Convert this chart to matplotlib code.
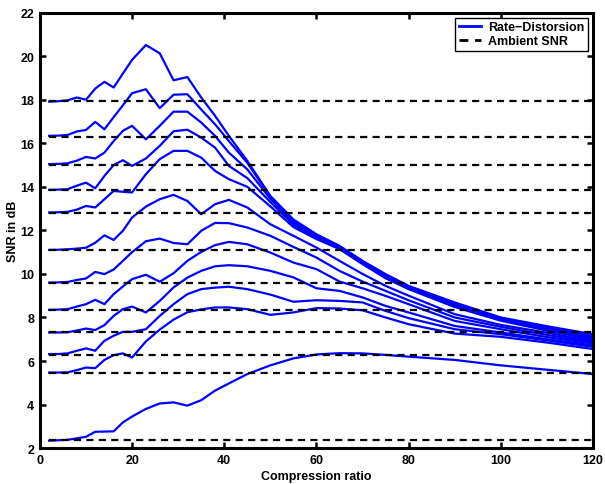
import numpy as np
import matplotlib
matplotlib.use('Agg')
import matplotlib.pyplot as plt

plt.rcParams['font.family'] = ['Liberation Sans', 'DejaVu Sans']
plt.rcParams['font.weight'] = 'bold'

# compression ratios where the curves were sampled
ratio = [2, 4, 6, 8, 10, 12, 14, 16, 18, 20, 23, 26, 29, 32, 35, 38, 41, 45,
         50, 55, 60, 65, 70, 75, 80, 90, 100, 110, 120]

# ambient SNR of each signal (dB)
ambient = [17.92, 16.30, 14.99, 13.83, 12.80, 11.08, 9.59, 8.32, 7.31, 6.29, 5.47, 2.37]

# rate-distortion SNR curves (dB), one per ambient level
rd1 = [17.91, 17.93, 17.97, 18.10, 18.00, 18.51, 18.82, 18.56, 19.20, 19.83, 20.51, 20.13, 18.89, 19.04,
       18.10, 17.26, 16.34, 15.19, 13.58, 12.50, 11.82, 11.29, 10.60, 9.99, 9.45, 8.69, 8.00, 7.60, 7.23]
rd2 = [16.34, 16.35, 16.38, 16.54, 16.61, 16.98, 16.64, 17.20, 17.74, 18.30, 18.48, 17.61, 18.23, 18.25,
       17.55, 16.87, 16.10, 15.10, 13.55, 12.45, 11.77, 11.25, 10.57, 9.95, 9.42, 8.65, 7.97, 7.55, 7.17]
rd3 = [15.04, 15.05, 15.08, 15.20, 15.37, 15.30, 15.57, 16.10, 16.57, 16.80, 16.18, 16.80, 17.45, 17.45,
       16.95, 16.34, 15.57, 14.80, 13.45, 12.35, 11.72, 11.22, 10.54, 9.92, 9.38, 8.60, 7.93, 7.50, 7.10]
rd4 = [13.86, 13.87, 13.89, 14.05, 14.19, 13.93, 14.50, 15.00, 15.22, 14.96, 15.30, 15.88, 16.55, 16.62,
       16.26, 15.80, 14.96, 14.40, 13.30, 12.25, 11.66, 11.18, 10.50, 9.88, 9.35, 8.55, 7.90, 7.45, 7.03]
rd5 = [12.82, 12.83, 12.85, 12.95, 13.12, 13.05, 13.43, 13.81, 13.77, 13.74, 14.58, 15.27, 15.65, 15.65,
       15.34, 14.73, 14.35, 14.00, 13.10, 12.15, 11.60, 11.14, 10.45, 9.80, 9.30, 8.48, 7.85, 7.40, 6.97]
rd6 = [11.10, 11.11, 11.13, 11.16, 11.20, 11.43, 11.77, 11.56, 11.98, 12.59, 13.09, 13.43, 13.63, 13.35,
       12.74, 13.20, 13.40, 13.05, 12.28, 11.75, 11.21, 10.60, 10.00, 9.45, 9.00, 8.15, 7.66, 7.30, 6.90]
rd7 = [9.60, 9.61, 9.63, 9.72, 9.79, 10.09, 9.99, 10.20, 10.60, 11.00, 11.50, 11.62, 11.42, 11.36,
       11.98, 12.34, 12.33, 12.13, 11.75, 11.24, 10.75, 10.14, 9.65, 9.22, 8.79, 8.00, 7.57, 7.20, 6.85]
rd8 = [8.35, 8.36, 8.38, 8.50, 8.61, 8.81, 8.61, 9.07, 9.42, 9.76, 9.96, 9.64, 10.03, 10.60,
       11.01, 11.32, 11.47, 11.36, 10.98, 10.52, 10.22, 9.65, 9.34, 8.99, 8.61, 7.84, 7.46, 7.10, 6.80]
rd9 = [7.31, 7.31, 7.32, 7.40, 7.49, 7.42, 7.65, 8.07, 8.38, 8.50, 8.23, 8.76, 9.38, 9.83,
       10.14, 10.35, 10.40, 10.35, 10.14, 9.84, 9.34, 9.22, 8.92, 8.53, 8.23, 7.61, 7.31, 7.00, 6.72]
rd10 = [6.32, 6.32, 6.35, 6.47, 6.58, 6.47, 6.93, 7.16, 7.34, 7.34, 7.46, 8.07, 8.61, 9.07,
        9.30, 9.37, 9.41, 9.30, 9.05, 8.72, 8.79, 8.76, 8.69, 8.30, 7.97, 7.46, 7.23, 6.95, 6.65]
rd11 = [5.47, 5.47, 5.48, 5.58, 5.70, 5.67, 6.05, 6.27, 6.35, 6.16, 6.90, 7.44, 7.90, 8.24,
        8.37, 8.46, 8.46, 8.38, 8.12, 8.23, 8.43, 8.41, 8.33, 8.00, 7.69, 7.26, 7.11, 6.85, 6.55]
rd12 = [2.34, 2.36, 2.38, 2.45, 2.52, 2.75, 2.76, 2.77, 3.18, 3.45, 3.80, 4.05, 4.10, 3.95,
        4.20, 4.64, 4.97, 5.40, 5.80, 6.12, 6.30, 6.36, 6.35, 6.28, 6.20, 6.05, 5.80, 5.60, 5.40]

curves = [rd1, rd2, rd3, rd4, rd5, rd6, rd7, rd8, rd9, rd10, rd11, rd12]

fig = plt.figure(figsize=(6.05, 4.85), dpi=100)
ax = fig.add_axes([0.066, 0.074, 0.914, 0.898])

x = np.array(ratio)
for i, c in enumerate(curves):
    ax.plot(x, c, color='#0000ff', lw=1.6, label='Rate\u2212Distorsion' if i == 0 else None)
for i, a in enumerate(ambient):
    ax.plot(x, np.full(len(x), a), color='black', lw=1.6, dashes=(3.2, 2.4),
            label='Ambient SNR' if i == 0 else None)

ax.set_xlim(0, 120)
ax.set_ylim(2, 22)
ax.set_xticks(range(0, 121, 20))
ax.set_yticks(range(2, 23, 2))
ax.tick_params(direction='in', length=4, width=1.8, top=True, right=True,
               labelsize=9, pad=4)
for lab in ax.get_xticklabels() + ax.get_yticklabels():
    lab.set_fontweight('bold')
for s in ax.spines.values():
    s.set_linewidth(2.2)

ax.set_xlabel('Compression ratio', fontsize=9, fontweight='bold', labelpad=3)
ax.set_ylabel('SNR in dB', fontsize=9, fontweight='bold', labelpad=1)

leg = ax.legend(loc='upper right', fontsize=9, frameon=True, fancybox=False,
                edgecolor='black', framealpha=1, handlelength=1.8, handletextpad=0.55,
                borderpad=0.3, labelspacing=0.15, borderaxespad=0.4,
                prop={'weight': 'bold', 'size': 9})
leg.get_frame().set_linewidth(1.0)
for h in leg.get_lines():
    h.set_linewidth(2.0)

fig.savefig('out.png', dpi=100)
